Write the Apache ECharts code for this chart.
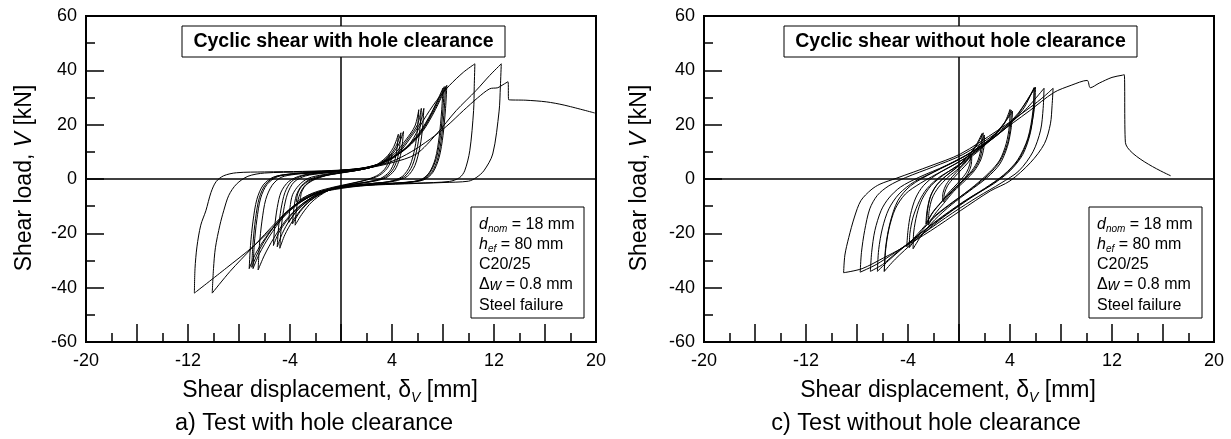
<!DOCTYPE html>
<html>
<head>
<meta charset="utf-8">
<title>Cyclic shear tests</title>
<script src="https://cdn.jsdelivr.net/npm/echarts@6/dist/echarts.min.js"></script>
<style>
  html, body { margin: 0; padding: 0; background: #fff; }
  #chart { width: 1231px; height: 439px; }
</style>
</head>
<body>
<div id="chart"></div>
<script>
// ---------- axis labels ----------
const xLabelValues = [-20, -12, -4, 4, 12, 20];
const yLabelValues = [-60, -40, -20, 0, 20, 40, 60];

// ---------- test with hole clearance: load cycles [displacement mm, load kN] ----------
const withA1 = [[-3.2,-8],[-3.1,-5],[-2.8,-2.5],[-2.2,-0.5],[-1.2,1.2],[0,2.2],[1.3,3.2],[2.5,4.5],[3.3,6.5],[3.8,9],[3.7,6],[3.4,3.5],[2.8,1.2],[1.8,-0.5],[0.6,-1.8],[-0.6,-3],[-1.8,-4.5],[-2.6,-6],[-3.2,-8]];
const withA2 = [[-3.5,-8.5],[-3.4,-5.5],[-3.1,-2.8],[-2.5,-0.6],[-1.5,1],[0,2.3],[1.5,3.4],[2.7,4.8],[3.5,7],[4.0,9.5],[3.9,6.5],[3.6,3.8],[3.0,1.3],[2,-0.4],[0.8,-1.7],[-0.5,-3.1],[-1.8,-4.8],[-2.8,-6.5],[-3.5,-8.5]];
const withB1 = [[-3.8,-16.5],[-3.7,-11],[-3.5,-6],[-3.1,-2.5],[-2.4,0],[-1.3,1.5],[0,2.4],[1.5,3.4],[2.8,5],[3.7,8],[4.3,12],[4.7,17],[4.6,12],[4.4,7],[4.0,3],[3.3,0.3],[2.2,-1],[1,-1.9],[-0.3,-3],[-1.4,-5],[-2.4,-8],[-3.2,-12],[-3.8,-16.5]];
const withB2 = [[-4.1,-16],[-4.0,-10.5],[-3.8,-5.8],[-3.3,-2.3],[-2.6,0.2],[-1.4,1.6],[0,2.5],[1.6,3.5],[3,5.3],[3.9,8.5],[4.5,12.5],[4.9,17.5],[4.8,12.5],[4.6,7.5],[4.2,3.2],[3.5,0.4],[2.4,-1],[1.1,-1.9],[-0.3,-3.1],[-1.5,-5.2],[-2.6,-8.2],[-3.5,-11.8],[-4.1,-16]];
const withB3 = [[-3.6,-17],[-3.5,-11.5],[-3.3,-6.5],[-2.9,-2.8],[-2.2,-0.2],[-1.1,1.4],[0,2.3],[1.4,3.3],[2.6,4.8],[3.5,7.8],[4.1,11.5],[4.5,16.5],[4.4,11.5],[4.2,6.5],[3.8,2.7],[3.1,0.2],[2,-1.1],[0.8,-2],[-0.4,-3.1],[-1.4,-5.3],[-2.3,-8.5],[-3.0,-12.5],[-3.6,-17]];
const withC1 = [[-5.0,-25],[-4.9,-18],[-4.7,-11],[-4.4,-5],[-3.9,-1],[-3,1.2],[-1.5,2.2],[0,2.8],[1.5,3.6],[3,5.5],[4.3,9],[5.3,15],[6.0,20],[6.3,26],[6.2,19],[6.0,12],[5.6,5],[5.0,1],[4,-0.8],[2.5,-1.6],[1,-2.3],[-0.5,-3.3],[-1.8,-5.5],[-3,-9.5],[-4,-15],[-4.6,-20],[-5.0,-25]];
const withC2 = [[-5.3,-24.5],[-5.2,-17.5],[-5.0,-10.5],[-4.7,-4.8],[-4.1,-0.9],[-3.1,1.3],[-1.6,2.3],[0,2.9],[1.6,3.8],[3.2,5.8],[4.5,9.5],[5.5,15.5],[6.2,20.5],[6.5,26],[6.4,19],[6.2,12],[5.8,5],[5.2,1],[4.2,-0.8],[2.6,-1.6],[1,-2.4],[-0.5,-3.5],[-1.9,-5.8],[-3.2,-9.8],[-4.2,-15],[-4.9,-20],[-5.3,-24.5]];
const withC3 = [[-4.8,-25.5],[-4.7,-18.5],[-4.5,-11.5],[-4.2,-5.5],[-3.7,-1.2],[-2.8,1.1],[-1.4,2.1],[0,2.7],[1.4,3.5],[2.9,5.3],[4.1,8.8],[5.1,14.5],[5.8,19.5],[6.1,25.5],[6.0,18.5],[5.8,11.5],[5.4,4.8],[4.8,0.9],[3.8,-0.9],[2.4,-1.7],[0.9,-2.4],[-0.6,-3.6],[-1.8,-6],[-2.9,-10],[-3.8,-15.5],[-4.4,-20.5],[-4.8,-25.5]];
const withD1 = [[-6.9,-33],[-6.8,-24],[-6.6,-15],[-6.3,-7],[-5.8,-2],[-5.0,0.8],[-3.8,1.8],[-2,2.4],[0,3],[2,4.2],[3.5,6.5],[5,11],[6.2,17],[7.2,25],[8.1,34],[8.0,26],[7.8,16],[7.5,8],[7.0,2.5],[6.3,-0.3],[5,-1.3],[3,-1.8],[1,-2.5],[-0.5,-3.5],[-2,-5.5],[-3.3,-9],[-4.5,-14],[-5.6,-21],[-6.4,-27.5],[-6.9,-33]];
const withD2 = [[-7.2,-33],[-7.1,-24.5],[-6.9,-15.5],[-6.6,-7.5],[-6.1,-2.2],[-5.3,0.7],[-4,1.8],[-2.1,2.5],[0,3.1],[2.1,4.4],[3.7,6.9],[5.2,11.5],[6.4,17.5],[7.4,25.5],[8.3,34.5],[8.2,26],[8.0,16],[7.7,8],[7.2,2.4],[6.5,-0.3],[5.2,-1.3],[3.1,-1.9],[1,-2.6],[-0.5,-3.6],[-2.1,-5.8],[-3.5,-9.5],[-4.7,-14.5],[-5.9,-21.5],[-6.7,-27.5],[-7.2,-33]];
const withD3 = [[-6.5,-33.5],[-6.4,-24.5],[-6.2,-15.5],[-5.9,-7.5],[-5.4,-2.3],[-4.7,0.6],[-3.6,1.7],[-1.9,2.3],[0,2.9],[1.9,4.1],[3.4,6.3],[4.9,10.8],[6.1,16.8],[7.1,24.5],[8.0,33.5],[7.9,25.5],[7.7,15.5],[7.4,7.5],[6.9,2.2],[6.2,-0.4],[4.9,-1.4],[2.9,-1.9],[0.9,-2.6],[-0.6,-3.7],[-2,-6],[-3.2,-9.8],[-4.3,-15],[-5.3,-22],[-6.0,-28],[-6.5,-33.5]];
const withD4 = [[-7.0,-32.5],[-6.9,-23.5],[-6.7,-14.5],[-6.4,-6.8],[-5.9,-1.9],[-5.1,0.9],[-3.9,1.9],[-2,2.5],[0,3.2],[2,4.3],[3.6,6.7],[5.1,11.3],[6.3,17.3],[7.3,25.3],[8.2,34],[8.1,25.8],[7.9,15.8],[7.6,7.8],[7.1,2.3],[6.4,-0.2],[5.1,-1.2],[3,-1.8],[1,-2.4],[-0.5,-3.4],[-2,-5.3],[-3.4,-8.8],[-4.6,-13.8],[-5.7,-20.5],[-6.5,-27],[-7.0,-32.5]];
const withE = [[-11.5,-42],[-11.45,-33],[-11.3,-25],[-11.0,-17],[-10.6,-11.7],[-10.2,-5],[-9.8,-1],[-9.2,1.2],[-8.2,2.3],[-6,2.6],[-3,2.8],[0,3.3],[2,4.2],[3.5,6],[4.6,9.5],[5.4,12.9],[6.45,21.5],[7.5,28.9],[8.5,34.4],[9.6,39.3],[10.5,42.4],[10.45,34],[10.4,25.2],[10.1,10.4],[9.7,3],[9.3,0.5],[8.5,-0.9],[6,-1.5],[3,-2],[0,-3.2],[-1.5,-4.5],[-3,-7.5],[-4.2,-12],[-4.8,-15.4],[-6.86,-24.7],[-9,-32.8],[-11.5,-42]];
const withF = [[-10.1,-42],[-10.0,-33],[-9.85,-25.3],[-9.5,-17],[-9.2,-11.7],[-8.8,-6],[-8.2,-1.9],[-7.3,1],[-6,2.2],[-3,2.6],[0,3.2],[2,4],[4,6],[5.9,9.2],[7.5,16.6],[9.04,25.2],[10.6,32.6],[11.66,38.1],[12.57,42.4],[12.5,34],[12.4,25],[11.9,9.2],[11.2,3],[10.6,0.5],[10,-0.8],[8,-1.3],[5,-1.8],[2,-2.4],[0,-3.5],[-2,-5.5],[-4,-11],[-5,-15.5],[-7,-25.5],[-8.7,-34],[-10.1,-42]];
const withFinal = [[-2,2.5],[0,3.2],[2,4],[4,6.5],[5.5,10],[7.0,14.7],[8.3,19.5],[9.6,25.2],[10.7,29.8],[11.66,33.2],[12.3,33.6],[12.7,34.7],[13.1,35.8],[13.15,29.2],[14.5,29],[16.1,28.4],[17.5,27.2],[19.9,24.3]];

// ---------- test without hole clearance: load cycles [displacement mm, load kN] ----------
const noR1 = [[-1.3,-8],[-1.25,-5],[-1.0,-2],[-0.5,1],[0.1,4],[0.6,6.5],[0.9,8.7],[0.85,5.5],[0.6,2.5],[0.1,-0.5],[-0.4,-3],[-0.9,-5.5],[-1.3,-8]];
const noR2 = [[-1.2,-8.5],[-1.15,-5.5],[-0.9,-2.5],[-0.4,0.5],[0.2,3.5],[0.7,6],[1.0,8.2],[0.95,5],[0.7,2],[0.2,-1],[-0.3,-3.5],[-0.8,-6],[-1.2,-8.5]];
const noQ1 = [[-2.54,-16.5],[-2.45,-11],[-2.2,-6],[-1.7,-2],[-1,1.2],[-0.1,4.5],[0.8,9],[1.4,13],[1.8,16.7],[1.75,12],[1.5,7],[1,3],[0.3,-0.5],[-0.6,-4.5],[-1.4,-8.5],[-2.1,-12.5],[-2.54,-16.5]];
const noQ2 = [[-2.4,-17],[-2.35,-12],[-2.1,-7],[-1.6,-3],[-0.9,0.5],[0,4],[0.9,8.5],[1.6,12.5],[2.0,16.2],[1.95,11.5],[1.7,7],[1.2,3],[0.5,-0.5],[-0.4,-4.5],[-1.2,-9],[-1.9,-13],[-2.4,-17]];
const noQ3 = [[-2.6,-16.5],[-2.5,-11.5],[-2.25,-6.5],[-1.8,-2.5],[-1.1,0.8],[-0.2,4.2],[0.7,8.5],[1.4,12.5],[1.9,17],[1.85,12],[1.6,7],[1.1,3],[0.4,-0.3],[-0.5,-4.2],[-1.3,-8.2],[-2.0,-12],[-2.6,-16.5]];
const noP1 = [[-4.1,-25],[-4.0,-19],[-3.8,-13],[-3.4,-7],[-2.8,-2.5],[-1.8,1.5],[-0.3,5.5],[1.2,10],[2.6,15.5],[3.5,20],[4.1,25.4],[4.05,20],[3.8,13],[3.2,6.5],[2.3,1.5],[1,-3.5],[-0.5,-8.5],[-2,-14],[-3.2,-20],[-4.1,-25]];
const noP2 = [[-3.6,-25.7],[-3.55,-19.5],[-3.3,-13],[-2.9,-7.5],[-2.2,-2.5],[-1.2,1.5],[0.2,6],[1.6,11],[2.9,17],[3.7,21.5],[4.2,25],[4.1,19],[3.8,12],[3.2,5.5],[2.2,0.5],[0.8,-4.5],[-0.6,-9.5],[-1.9,-15],[-2.9,-20.5],[-3.6,-25.7]];
const noP3 = [[-3.9,-25.3],[-3.85,-20],[-3.6,-14],[-3.1,-8],[-2.5,-3.5],[-1.5,0.8],[0,5],[1.4,9.8],[2.8,16],[3.6,21],[4.0,25.6],[3.95,19.5],[3.7,13],[3.2,7],[2.4,2.5],[1.2,-2.5],[-0.3,-8],[-1.8,-13.5],[-3,-19.5],[-3.9,-25.3]];
const noO1 = [[-9.05,-34.5],[-8.95,-28],[-8.65,-21.6],[-8.2,-14],[-7.7,-8],[-6.9,-4],[-6.2,-1.9],[-4.9,0.3],[-2.2,4.9],[0.1,9.2],[3.0,17.8],[5.6,26.4],[6.7,30.5],[7.38,33.4],[7.3,27],[7.17,20.3],[6.7,13],[5.6,6],[4.0,-0.7],[2.46,-4.4],[0.1,-11.7],[-2.24,-19.1],[-4.5,-25.5],[-5.9,-29],[-7.6,-33],[-9.05,-34.5]];
const noO2 = [[-7.75,-34.3],[-7.65,-27],[-7.4,-19],[-7.0,-11],[-6.4,-6],[-5.5,-2.5],[-4.2,0.5],[-2,4.5],[0.3,9],[2.8,16.5],[5,24.5],[6.67,33.4],[6.6,26],[6.4,18],[5.8,10],[4.7,3],[3.3,-1.5],[1.5,-6.5],[-0.5,-12.5],[-2.8,-20],[-5,-27],[-6.5,-31.5],[-7.75,-34.3]];
const noO3 = [[-6.95,-34],[-6.85,-27],[-6.6,-19],[-6.1,-11.5],[-5.5,-7],[-4.6,-3],[-3.2,0.5],[-1,5],[1.2,10.5],[3.5,18],[5,25.5],[5.9,33.7],[5.85,26],[5.6,17],[5,9],[4,3],[2.7,-1.8],[1,-6.5],[-1,-13],[-3,-20],[-5,-27.5],[-6,-31.5],[-6.95,-34]];
const noO4 = [[-6.4,-34],[-6.3,-26],[-6.0,-18],[-5.5,-11],[-4.7,-5.5],[-3.5,-1],[-1.8,3],[0.5,8.5],[2.7,15],[4.5,23],[5.9,33.5],[5.8,25],[5.4,15],[4.6,7],[3.5,1.5],[2,-3.5],[0.3,-8.5],[-1.8,-15.5],[-3.8,-23],[-5.4,-29.5],[-6.4,-34]];
const noO5 = [[-5.86,-34],[-5.75,-26],[-5.5,-18.5],[-5.0,-11],[-4.2,-5.5],[-3,-1.5],[-1.3,3],[0.8,8.5],[2.8,15.5],[4.6,24],[6.0,33.8],[5.9,25.5],[5.5,16],[4.8,8],[3.8,2.5],[2.4,-2.5],[0.6,-8],[-1.5,-15],[-3.5,-23],[-5,-29.5],[-5.86,-34]];
const noFinal = [[-5.86,-34],[-5.75,-25],[-5.4,-16],[-4.8,-8],[-3.8,-2.5],[-2,2.5],[0.3,8],[3,16.5],[5.5,25],[7.43,31.8],[8.8,34.5],[10.05,36.3],[10.3,33.6],[11,35.3],[12,37.4],[12.8,38.2],[12.96,38.4],[13.05,13.5],[16.6,1.2]];

const loopsWith = [withA1, withA2, withB1, withB2, withB3, withC1, withC2, withC3,
                   withD1, withD2, withD3, withD4, withE, withF, withFinal];
const loopsWithout = [noR1, noR2, noQ1, noQ2, noQ3, noP1, noP2, noP3,
                      noO1, noO2, noO3, noO4, noO5, noFinal];

// ---------- chart ----------
const FONT = '"Liberation Sans", Arial, Helvetica, sans-serif';
const chart = echarts.init(document.getElementById('chart'), null, { renderer: 'canvas' });

const gridBox = { top: 16, width: 510, height: 326 };

function xAxisFor(i) {
  return {
    gridIndex: i, type: 'value', min: -20, max: 20, interval: 4,
    axisLine: { onZero: false, lineStyle: { color: '#000', width: 2 } },
    axisTick: { inside: true, length: 18, lineStyle: { color: '#000', width: 1.5 } },
    minorTick: { show: true, splitNumber: 2, length: 9, lineStyle: { color: '#000', width: 1.5 } },
    splitLine: { show: false },
    axisLabel: {
      color: '#000', fontFamily: FONT, fontSize: 18, margin: 10,
      formatter: v => (xLabelValues.indexOf(v) >= 0 ? String(v) : '')
    }
  };
}
function yAxisFor(i) {
  return {
    gridIndex: i, type: 'value', min: -60, max: 60, interval: 20,
    axisLine: { onZero: false, lineStyle: { color: '#000', width: 2 } },
    axisTick: { inside: true, length: 18, lineStyle: { color: '#000', width: 1.5 } },
    minorTick: { show: true, splitNumber: 2, length: 9, lineStyle: { color: '#000', width: 1.5 } },
    splitLine: { show: false },
    axisLabel: {
      color: '#000', fontFamily: FONT, fontSize: 18, margin: 9,
      formatter: v => (yLabelValues.indexOf(v) >= 0 ? String(v) : '')
    }
  };
}

function curveSeries(data, i) {
  return {
    type: 'line', xAxisIndex: i, yAxisIndex: i, data: data,
    showSymbol: false, symbol: 'none', smooth: 0.3, silent: true,
    lineStyle: { color: '#000', width: 1 }, z: 3
  };
}

const series = [];
loopsWith.forEach(d => series.push(curveSeries(d, 0)));
loopsWithout.forEach(d => series.push(curveSeries(d, 1)));

// zero reference lines through the origin of each panel
[0, 1].forEach(i => {
  series.push({
    type: 'line', xAxisIndex: i, yAxisIndex: i, data: [[0, 0]],
    showSymbol: false, symbol: 'none', lineStyle: { width: 0 }, silent: true, z: 2,
    markLine: {
      silent: true, symbol: 'none', label: { show: false }, animation: false,
      lineStyle: { color: '#000', width: 1.5, type: 'solid' },
      data: [{ xAxis: 0 }, { yAxis: 0 }]
    }
  });
});

function titleBox(x, w, text) {
  return [
    { type: 'rect', shape: { x: x, y: 26, width: w, height: 31 },
      style: { fill: '#fff', stroke: '#000', lineWidth: 1 }, z: 10 },
    { type: 'text', x: x + w / 2, y: 42, z: 11,
      style: { text: text, fill: '#000', font: 'bold 19.5px ' + FONT, align: 'center', verticalAlign: 'middle' } }
  ];
}

const infoRich = {
  n: { fontFamily: FONT, fontSize: 16, lineHeight: 20.3, fill: '#000' },
  i: { fontFamily: FONT, fontSize: 16, fontStyle: 'italic', lineHeight: 20.3, fill: '#000' },
  s: { fontFamily: FONT, fontSize: 10, fontStyle: 'italic', lineHeight: 10, verticalAlign: 'bottom', fill: '#000' }
};
const infoText = '{i|d}{s|nom}{n| = 18 mm}\n{i|h}{s|ef}{n| = 80 mm}\n{n|C20/25}\n{n|Δ}{i|w}{n| = 0.8 mm}\n{n|Steel failure}';

function infoBox(x, w) {
  return [
    { type: 'rect', shape: { x: x, y: 207, width: w, height: 111 },
      style: { fill: '#fff', stroke: '#000', lineWidth: 1 }, z: 10 },
    { type: 'text', x: x + 8, y: 214, z: 11,
      style: { text: infoText, rich: infoRich, fontFamily: FONT, fontSize: 16, align: 'left', verticalAlign: 'top' } }
  ];
}

const axisRich = {
  a: { fontFamily: FONT, fontSize: 23, lineHeight: 28, fill: '#000' },
  i: { fontFamily: FONT, fontSize: 23, fontStyle: 'italic', lineHeight: 28, fill: '#000' },
  s: { fontFamily: FONT, fontSize: 14, fontStyle: 'italic', lineHeight: 12, verticalAlign: 'bottom', fill: '#000' }
};

function axisTitles(xc, yTitleX) {
  return [
    { type: 'text', x: xc, y: 391, z: 11,
      style: { text: '{a|Shear displacement, δ}{s|V}{a| [mm]}', rich: axisRich, align: 'center', verticalAlign: 'middle' } },
    { type: 'text', x: yTitleX, y: 178, rotation: Math.PI / 2, z: 11,
      style: { text: '{a|Shear load, }{i|V}{a| [kN]}', rich: axisRich, align: 'center', verticalAlign: 'middle' } }
  ];
}

function caption(xc, text) {
  return { type: 'text', x: xc, y: 424, z: 11,
    style: { text: text, fill: '#000', font: '23.5px ' + FONT, align: 'center', verticalAlign: 'middle' } };
}

const graphics = [].concat(
  titleBox(182, 323, 'Cyclic shear with hole clearance'),
  titleBox(784, 353, 'Cyclic shear without hole clearance'),
  infoBox(471, 113),
  infoBox(1089, 113),
  axisTitles(330, 25),
  axisTitles(948, 640),
  [caption(314, 'a) Test with hole clearance'), caption(926, 'c) Test without hole clearance')]
);

chart.setOption({
  animation: false,
  backgroundColor: '#fff',
  grid: [
    Object.assign({ left: 86, show: true, borderColor: '#000', borderWidth: 2, backgroundColor: 'transparent' }, gridBox),
    Object.assign({ left: 704, show: true, borderColor: '#000', borderWidth: 2, backgroundColor: 'transparent' }, gridBox)
  ],
  xAxis: [xAxisFor(0), xAxisFor(1)],
  yAxis: [yAxisFor(0), yAxisFor(1)],
  series: series,
  graphic: graphics
});
</script>
</body>
</html>
